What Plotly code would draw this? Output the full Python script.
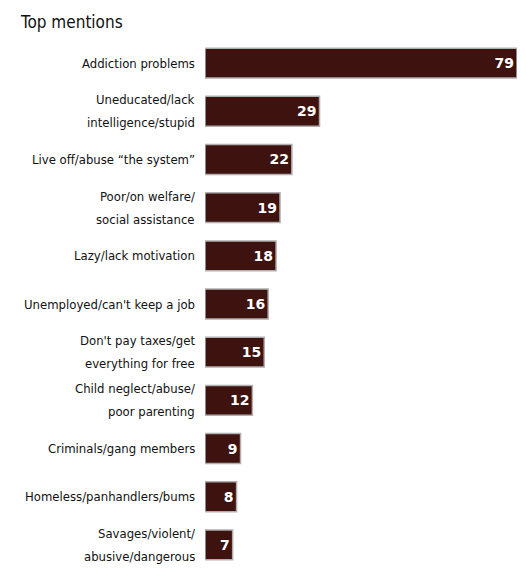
import plotly.graph_objects as go

categories = [
    "Addiction problems",
    "Uneducated/lack<br>intelligence/stupid",
    "Live off/abuse “the system”",
    "Poor/on welfare/<br>social assistance",
    "Lazy/lack motivation",
    "Unemployed/can't keep a job",
    "Don't pay taxes/get<br>everything for free",
    "Child neglect/abuse/<br>poor parenting",
    "Criminals/gang members",
    "Homeless/panhandlers/bums",
    "Savages/violent/<br>abusive/dangerous",
]
values = [79, 29, 22, 19, 18, 16, 15, 12, 9, 8, 7]
title_text = "Top mentions"

label_font = dict(family="DejaVu Sans Condensed, DejaVu Sans, sans-serif", size=13, color="#111")

fig = go.Figure(go.Bar(
    x=values,
    y=list(range(len(categories))),
    orientation="h",
    marker=dict(color="#3e120e", line=dict(color="#b0b0b0", width=1.5)),
    width=0.62,
    text=[str(v) for v in values],
    textposition="inside",
    insidetextanchor="end",
    textfont=dict(family="DejaVu Sans", size=14, color="white", weight="bold"),
    textangle=0,
    cliponaxis=False,
))

annotations = []
line_gap = 23
for i, cat in enumerate(categories):
    lines = cat.split("<br>")
    n = len(lines)
    for j, ln in enumerate(lines):
        annotations.append(dict(
            text=ln, x=0, y=i, xref="x", yref="y",
            xanchor="right", yanchor="middle", xshift=-8,
            yshift=((n - 1) / 2 - j) * line_gap,
            showarrow=False, font=label_font,
        ))

W, H = 518, 561
annotations.append(dict(
    text=title_text, x=0, y=1, xref="paper", yref="paper",
    xshift=10 - 197, yshift=31 - 14,
    showarrow=False, xanchor="left", yanchor="middle",
    font=dict(family="DejaVu Sans Condensed, DejaVu Sans, sans-serif", size=17, color="#111"),
))

fig.update_layout(
    width=W,
    height=H,
    margin=dict(l=197, r=9, t=31, b=0),
    paper_bgcolor="white",
    plot_bgcolor="white",
    showlegend=False,
    uniformtext=dict(minsize=8, mode="show"),
    xaxis=dict(range=[0, 79], visible=False, showgrid=False, zeroline=False),
    yaxis=dict(
        range=[len(categories) - 0.5, -0.5],
        showgrid=False, zeroline=False, showline=False,
        showticklabels=False, ticks="",
    ),
    annotations=annotations,
)

fig.write_html("out.html")
